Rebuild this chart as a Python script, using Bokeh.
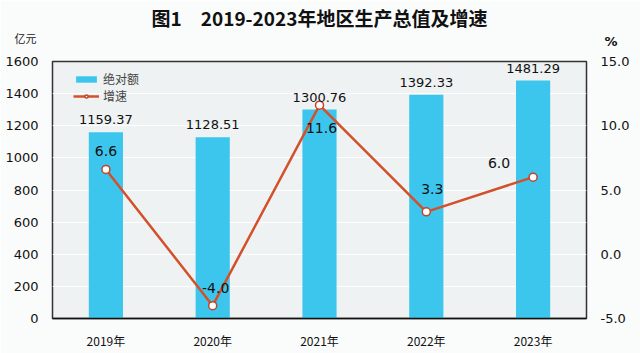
from bokeh.plotting import figure
from bokeh.models import (ColumnDataSource, LinearAxis, Range1d, Label, Legend, LegendItem,
                          FactorRange, NumeralTickFormatter, FixedTicker, Title)
from bokeh.embed import file_html
from bokeh.resources import INLINE
from bokeh.core.properties import value

# ---- data ----
years = ["2019年", "2020年", "2021年", "2022年", "2023年"]
gdp = [1159.37, 1128.51, 1300.76, 1392.33, 1481.29]
growth = [6.6, -4.0, 11.6, 3.3, 6.0]
gdp_text = ["1159.37", "1128.51", "1300.76", "1392.33", "1481.29"]
growth_text = ["6.6", "-4.0", "11.6", "3.3", "6.0"]
left_ticks = [0, 200, 400, 600, 800, 1000, 1200, 1400, 1600]
right_ticks = [-5, 0, 5, 10, 15]

# label placement (layout only)
g_dx = [0, 3, 2, 6, -34]
g_dy = [-18, -18, 23, -23, -14]

BAR = "#3CC6EE"
LINE = "#D4502A"
NUM_FONT = "DejaVu Sans"
CJK = "Noto Sans CJK SC"

src = ColumnDataSource(dict(x=years, gdp=gdp, growth=growth, gt=gdp_text,
                            grt=growth_text, dx=g_dx, dy=g_dy))

p = figure(x_range=FactorRange(*years, range_padding=0), y_range=Range1d(0, 1600),
           width=640, height=353, output_backend="svg", toolbar_location=None,
           min_border_left=52, min_border_right=54, min_border_top=61, min_border_bottom=35)
p.extra_y_ranges = {"g": Range1d(-5, 15)}

p.background_fill_color = "#eef2f2"
p.border_fill_color = "#fafbfb"
p.outline_line_color = "#333333"
p.outline_line_width = 1.5
p.xgrid.grid_line_color = None
p.ygrid.grid_line_color = "#ffffff"
p.ygrid.grid_line_width = 1.2

bars = p.vbar(x="x", top="gdp", width=0.32, source=src, fill_color=BAR, line_color=None)
ln = p.line(x="x", y="growth", source=src, y_range_name="g", line_color=LINE, line_width=2.5)
cr = p.scatter(x="x", y="growth", source=src, y_range_name="g", size=8,
               fill_color="white", line_color="#C0432A", line_width=1.5)

p.text(x="x", y="gdp", text="gt", source=src, text_align="center", text_baseline="bottom",
       y_offset=-8, text_font=value(NUM_FONT), text_font_size="13px", text_color="#111111")
p.text(x="x", y="growth", text="grt", source=src, y_range_name="g", text_align="center",
       text_baseline="middle", x_offset="dx", y_offset="dy", text_font=value(NUM_FONT),
       text_font_size="14px", text_color="#111111")

# axes
yl = p.yaxis[0]
yl.ticker = FixedTicker(ticks=left_ticks)
ra = LinearAxis(y_range_name="g", ticker=FixedTicker(ticks=right_ticks),
                formatter=NumeralTickFormatter(format="0.0"))
p.add_layout(ra, "right")
for ax in [yl, ra, p.xaxis[0]]:
    ax.axis_line_color = None
    ax.major_tick_line_color = None
    ax.minor_tick_line_color = None
    ax.major_label_text_font = NUM_FONT
    ax.major_label_text_font_size = "13px"
    ax.major_label_text_color = "#111111"
    ax.major_label_standoff = 8
p.xaxis[0].axis_line_color = "#111111"
p.xaxis[0].axis_line_width = 1.5
p.xaxis[0].major_label_text_font = CJK
p.xaxis[0].major_label_text_font_size = "12px"
p.xaxis[0].major_label_standoff = 7

# legend
leg = Legend(items=[LegendItem(label="绝对额", renderers=[bars]),
                    LegendItem(label="增速", renderers=[ln, cr])],
             location=(21, 214), background_fill_alpha=0, border_line_color=None,
             label_text_font=CJK, label_text_font_size="12px", glyph_width=26,
             glyph_height=8, margin=0, padding=5, spacing=0, label_standoff=4)
p.add_layout(leg)

# texts
p.title = Title(text="图1\u30002019-2023年地区生产总值及增速", align="center",
                text_font=CJK, text_font_size="19px", text_font_style="bold",
                text_color="#111111", standoff=0)
p.add_layout(Label(x=-38, y=24, x_units="screen", y_units="screen", text="亿元",
                   text_baseline="middle", text_font=CJK, text_font_size="11px",
                   text_color="#222222"), "above")
p.add_layout(Label(x=552, y=4, x_units="screen", y_units="screen", text="%",
                   text_baseline="middle", text_font=NUM_FONT, text_font_size="13px",
                   text_font_style="bold", text_color="#111111"), "above")

open("out.html", "w").write(file_html(p, INLINE))
